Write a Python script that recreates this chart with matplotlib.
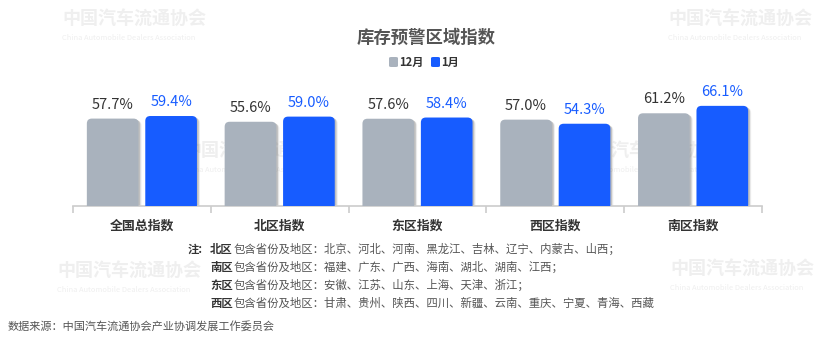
import matplotlib
matplotlib.use('Agg')
import matplotlib.pyplot as plt
from matplotlib.patches import FancyBboxPatch
import matplotlib.transforms as mtransforms

plt.rcParams['font.family'] = ['Noto Sans CJK SC', 'DejaVu Sans']

# data
categories = ['全国总指数', '北区指数', '东区指数', '西区指数', '南区指数']
dec_values = [57.7, 55.6, 57.6, 57.0, 61.2]
jan_values = [59.4, 59.0, 58.4, 54.3, 66.1]
series_names = ['12月', '1月']

note_regions = ['北区', '南区', '东区', '西区']
note_provinces = [
    '北京、河北、河南、黑龙江、吉林、辽宁、内蒙古、山西；',
    '福建、广东、广西、海南、湖北、湖南、江西；',
    '安徽、江苏、山东、上海、天津、浙江；',
    '甘肃、贵州、陕西、四川、新疆、云南、重庆、宁夏、青海、西藏',
]
source_text = '数据来源：中国汽车流通协会产业协调发展工作委员会'
title_text = '库存预警区域指数'

GRAY = '#a9b2bd'
BLUE = '#175cff'

W, H = 832, 342
fig = plt.figure(figsize=(W / 100, H / 100), dpi=100)

# background layer with faint association watermarks (sits under the bars)
bg = fig.add_axes([0, 0, 1, 1])
bg.set_xlim(0, W)
bg.set_ylim(H, 0)
bg.axis('off')
wm_spots = [(62, 18), (668, 18), (183, 150), (575, 150), (57, 270), (670, 268)]
for wx, wy in wm_spots:
    bg.text(wx, wy, '中国汽车流通协会', fontsize=13, color='#efefef',
            ha='left', va='center', fontweight='bold')
    bg.text(wx, wy + 20, 'China Automobile Dealers Association',
            fontsize=5.4, color='#efefef', ha='left', va='center')

# axes placement in pixels
ax_left, ax_right, ax_base = 73, 762, 206
px_per_unit = 1.515
ymax = 80
ax_h = ymax * px_per_unit
ax = fig.add_axes([ax_left / W, 1 - ax_base / H, (ax_right - ax_left) / W, ax_h / H])
ax.set_xlim(0, len(categories))
ax.set_ylim(0, ymax)
ax.patch.set_alpha(0)

bar_w = 0.375
offs = [-0.212, 0.212]
colors = [GRAY, BLUE]
label_colors = ['#333333', BLUE]

# rounding in data units: x 138px/unit, y 1.515px/unit
rad_px = 5
pad = rad_px / 138
aspect = (rad_px / px_per_unit) / pad

for s, vals in enumerate([dec_values, jan_values]):
    for i, v in enumerate(vals):
        xc = i + 0.5 + offs[s]
        x0 = xc - bar_w / 2 + pad
        w = bar_w - 2 * pad
        y0 = -10
        h = v - y0 - rad_px / px_per_unit
        # soft drop shadow
        for dx, dy, a in [(3, -2, 0.10), (2, -1.5, 0.14), (1.5, -1, 0.18)]:
            off = mtransforms.offset_copy(ax.transData, fig=fig, x=dx, y=dy, units='dots')
            sh = FancyBboxPatch((x0, y0), w, h,
                                boxstyle=f'round,pad={pad},rounding_size={pad}',
                                mutation_aspect=aspect, fc='#555555', ec='none',
                                alpha=a, transform=off, zorder=2)
            ax.add_patch(sh)
        p = FancyBboxPatch((x0, y0), w, h,
                           boxstyle=f'round,pad={pad},rounding_size={pad}',
                           mutation_aspect=aspect, fc=colors[s], ec='none', zorder=3)
        ax.add_patch(p)
        ax.text(xc, v + 4.5, f'{v:.1f}%', ha='center', va='bottom', fontsize=10.5,
                color=label_colors[s], zorder=4)

for sp in ['top', 'right', 'left']:
    ax.spines[sp].set_visible(False)
ax.spines['bottom'].set_color('#cccccc')
ax.spines['bottom'].set_linewidth(1.2)
ax.set_yticks([])
ax.set_xticks([i + 0.5 for i in range(len(categories))])
ax.set_xticklabels(categories, fontsize=9.3, fontweight='bold', color='#333333')
ax.tick_params(axis='x', which='major', length=0, pad=9)
ax.set_xticks(range(len(categories) + 1), minor=True)
ax.tick_params(axis='x', which='minor', length=5, color='#cccccc', width=1.2)

# title and legend
fig.text(426 / W, 1 - 38 / H, title_text, ha='center', va='center', fontsize=12.5,
         fontweight='bold', color='#555555')
leg_y = 1 - 62 / H
for name, c, lx in zip(series_names, colors, [389, 431]):
    sq = FancyBboxPatch((lx / W, leg_y - 5 / H), 9 / W, 10 / H,
                        boxstyle='round,pad=0,rounding_size=0.003',
                        fc=c, ec='none', transform=fig.transFigure)
    fig.patches.append(sq)
    fig.text((lx + 10) / W, leg_y, name, ha='left', va='center', fontsize=8,
             fontweight='bold', color='#333333')

# regional notes
fig.text(188 / W, 1 - 249 / H, '注:', ha='left', va='center', fontsize=8.2,
         fontweight='bold', color='#333333')
for k, (reg, prov) in enumerate(zip(note_regions, note_provinces)):
    y = 1 - (249 + 18 * k) / H
    fig.text(210 / W, y, reg, ha='left', va='center', fontsize=8.2,
             fontweight='bold', color='#333333')
    fig.text(233.5 / W, y, '包含省份及地区：' + prov, ha='left', va='center',
             fontsize=8.2, color='#555555')

fig.text(8 / W, 1 - 326 / H, source_text, ha='left', va='center', fontsize=8,
         color='#555555')

fig.savefig('out.png', dpi=100)
